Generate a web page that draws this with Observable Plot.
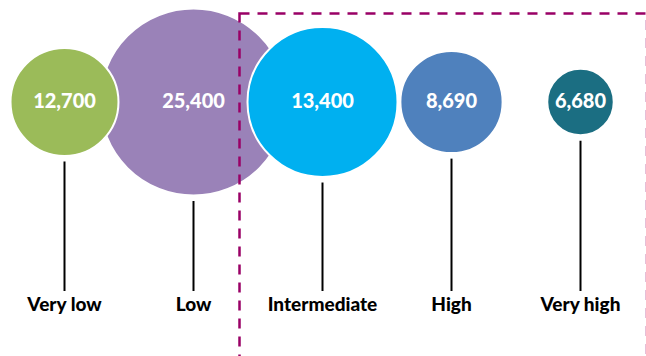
<!DOCTYPE html>
<html>
<head>
<meta charset="utf-8">
<script src="https://cdn.jsdelivr.net/npm/d3@7"></script>
<script src="https://cdn.jsdelivr.net/npm/@observablehq/plot@0.6"></script>
<style>
  html, body { margin: 0; padding: 0; background: #fff; }
  #chart svg { display: block; }
</style>
</head>
<body>
<div id="chart"></div>
<script>
// Categories and values
const categories = ["Very low", "Low", "Intermediate", "High", "Very high"];
const values = [12700, 25400, 13400, 8690, 6680];
// Relative bubble area (hidden measure)
const bubbleWeight = [29, 87, 56, 26, 11];
// Highlighted group (dashed box)
const highlighted = ["Intermediate", "High", "Very high"];

const colors = ["#9BBB59", "#9A82B8", "#00B0F0", "#4F81BD", "#1B6E82"];

const data = categories.map((c, i) => ({category: c, value: values[i], weight: bubbleWeight[i]}));

const W = 646, H = 356;
const cy = 101.5;          // bubble centre line
const labelY = 304;        // category label line
const ruleBottom = 291;
const gap = 6;

const rOpts = {type: "sqrt", domain: [0, d3.max(bubbleWeight)], range: [0, 93.5]};
const rScale = Plot.scale({r: rOpts});

const fmt = d3.format(",");

const chart = Plot.plot({
  width: W,
  height: H,
  marginLeft: 64,
  marginRight: 66,
  marginTop: 0,
  marginBottom: 0,
  style: {fontFamily: "Lato, 'Open Sans', sans-serif", background: "#fff", overflow: "hidden"},
  x: {type: "point", domain: categories, padding: 0, axis: null},
  y: {type: "identity", axis: null},
  r: rOpts,
  color: {domain: categories, range: colors},
  marks: [
    Plot.ruleX(data, {
      x: "category",
      y1: d => cy + rScale.apply(d.weight) + gap,
      y2: () => ruleBottom,
      stroke: "#000",
      strokeWidth: 2
    }),
    Plot.dot(data, {
      x: "category",
      frameAnchor: "top",
      dy: cy,
      r: "weight",
      fill: "category",
      fillOpacity: 1,
      stroke: "#fff",
      strokeWidth: 2
    }),
    Plot.frame({
      stroke: "#990066",
      strokeWidth: 2.5,
      strokeDasharray: "10,8",
      insetLeft: 175,
      insetRight: -66.5,
      insetTop: 13,
      insetBottom: -10
    }),
    Plot.text(data, {
      x: "category",
      frameAnchor: "top",
      dy: cy,
      text: d => fmt(d.value),
      fill: "#fff",
      fontSize: 20,
      fontWeight: "900",
      textAnchor: "middle",
      lineAnchor: "middle"
    }),
    Plot.text(data, {
      x: "category",
      frameAnchor: "top",
      dy: labelY,
      text: "category",
      fill: "#000",
      fontSize: 19,
      fontWeight: "900",
      textAnchor: "middle",
      lineAnchor: "middle"
    })
  ]
});

document.getElementById("chart").appendChild(chart);
</script>
</body>
</html>
